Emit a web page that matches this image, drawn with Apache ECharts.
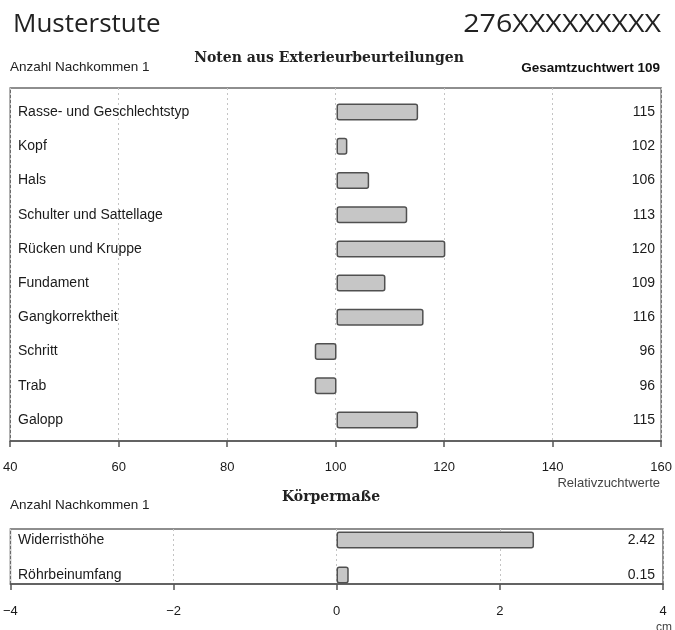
<!DOCTYPE html>
<html><head><meta charset="utf-8">
<script src="https://cdn.jsdelivr.net/npm/echarts@6/dist/echarts.min.js"></script>
<style>html,body{margin:0;padding:0;background:#fff}#c{width:675px;height:630px}</style>
</head><body><div id="c"></div>
<script>
const categories = ['Rasse- und Geschlechtstyp','Kopf','Hals','Schulter und Sattellage','Rücken und Kruppe','Fundament','Gangkorrektheit','Schritt','Trab','Galopp'];
const values = [115,102,106,113,120,109,116,96,96,115];
const baseline = 100;
const topTicks = [40,60,80,100,120,140,160];
const koerperCats = ['Widerristhöhe','Röhrbeinumfang'];
const koerperValues = [2.42,0.15];
const bottomTicks = [-4,-2,0,2,4];

const chart = echarts.init(document.getElementById('c'), null, {renderer:'canvas'});
const LBL = '#1a1a1a', AX = '#555', SANS = 'Liberation Sans, Arial, sans-serif';
const barStyle = {color:'#c6c6c6', borderColor:'#505050', borderWidth:1.5, borderRadius:2};
const frameX = (min,max,interval,fmt,margin)=>({
  type:'value', min, max, interval,
  axisLine:{show:true, onZero:false, lineStyle:{color:AX,width:1.5}},
  axisTick:{show:true, inside:false, length:6, lineStyle:{color:AX,width:1.5}},
  axisLabel:{margin:margin, color:LBL, fontSize:13, fontFamily:SANS, formatter:fmt},
  splitLine:{show:true, lineStyle:{color:'#c4c4c4', type:[2,3], width:1}}
});
const hidX = (min,max)=>({type:'value', min, max, show:false});
const minus = s=>String(s).replace('-', '\u2212');
const catLabel = {inside:true, margin:8, color:LBL, fontSize:14, fontFamily:SANS};

const option = {
  animation:false,
  backgroundColor:'#fff',
  grid:[
    {left:10, right:12, top:88, height:353, show:true, borderColor:'#6a6a6a', borderWidth:1.5},
    {left:10, right:12, top:95, height:342},
    {left:10, right:12, top:529, height:55, show:true, borderColor:'#6a6a6a', borderWidth:1.5},
    {left:10, right:12, top:522.5, height:70}
  ],
  xAxis:[
    Object.assign(frameX(topTicks[0]-baseline, topTicks[topTicks.length-1]-baseline, topTicks[1]-topTicks[0], v=>String(v+baseline), 20), {gridIndex:0}),
    Object.assign(hidX(topTicks[0]-baseline, topTicks[topTicks.length-1]-baseline), {gridIndex:1}),
    Object.assign(frameX(bottomTicks[0], bottomTicks[bottomTicks.length-1], bottomTicks[1]-bottomTicks[0], v=>minus(v), 21), {gridIndex:2}),
    Object.assign(hidX(bottomTicks[0], bottomTicks[bottomTicks.length-1]), {gridIndex:3})
  ],
  yAxis:[
    {gridIndex:0, type:'value', show:false},
    {gridIndex:1, type:'category', data:categories, inverse:true, position:'left',
      axisLine:{show:false}, axisTick:{show:false}, axisLabel:catLabel},
    {gridIndex:1, type:'category', data:values.map(String), inverse:true, position:'right',
      axisLine:{show:false}, axisTick:{show:false}, axisLabel:catLabel},
    {gridIndex:2, type:'value', show:false},
    {gridIndex:3, type:'category', data:koerperCats, inverse:true, position:'left',
      axisLine:{show:false}, axisTick:{show:false}, axisLabel:catLabel},
    {gridIndex:3, type:'category', data:koerperValues.map(v=>v.toFixed(2)), inverse:true, position:'right',
      axisLine:{show:false}, axisTick:{show:false}, axisLabel:catLabel}
  ],
  series:[
    {type:'bar', xAxisIndex:1, yAxisIndex:1, barWidth:17, data:values.map(v=>v-baseline), itemStyle:barStyle, silent:true},
    {type:'bar', xAxisIndex:3, yAxisIndex:4, barWidth:17, data:koerperValues, itemStyle:barStyle, silent:true}
  ],
  graphic:[
    {type:'text', x:13, y:25, style:{text:'Musterstute', x:0, y:0, font:'26px "Open Sans"', fill:'#222', verticalAlign:'middle', align:'left'}},
    {type:'text', x:661, y:25, scaleX:1.1, style:{text:'276XXXXXXXXX', x:0, y:0, font:'26px "Open Sans"', fill:'#222', verticalAlign:'middle', align:'right'}},
    {type:'text', style:{text:'Noten aus Exterieurbeurteilungen', x:329, y:58, font:'bold 14px "DejaVu Serif"', fill:'#222', verticalAlign:'middle', align:'center'}},
    {type:'text', style:{text:'Anzahl Nachkommen 1', x:10, y:67, font:'13.5px "Liberation Sans"', fill:'#222', verticalAlign:'middle', align:'left'}},
    {type:'text', style:{text:'Gesamtzuchtwert 109', x:660, y:68, font:'bold 13.5px "Liberation Sans"', fill:'#111', verticalAlign:'middle', align:'right'}},
    {type:'text', style:{text:'Relativzuchtwerte', x:660, y:483, font:'13px "Liberation Sans"', fill:'#444', verticalAlign:'middle', align:'right'}},
    {type:'text', style:{text:'Anzahl Nachkommen 1', x:10, y:505, font:'13.5px "Liberation Sans"', fill:'#222', verticalAlign:'middle', align:'left'}},
    {type:'text', style:{text:'Körpermaße', x:331, y:497, font:'bold 14px "DejaVu Serif"', fill:'#222', verticalAlign:'middle', align:'center'}},
    {type:'text', style:{text:'cm', x:664, y:628, font:'12px "Liberation Sans"', fill:'#444', verticalAlign:'middle', align:'center'}}
  ]
};
chart.setOption(option);
</script></body></html>
